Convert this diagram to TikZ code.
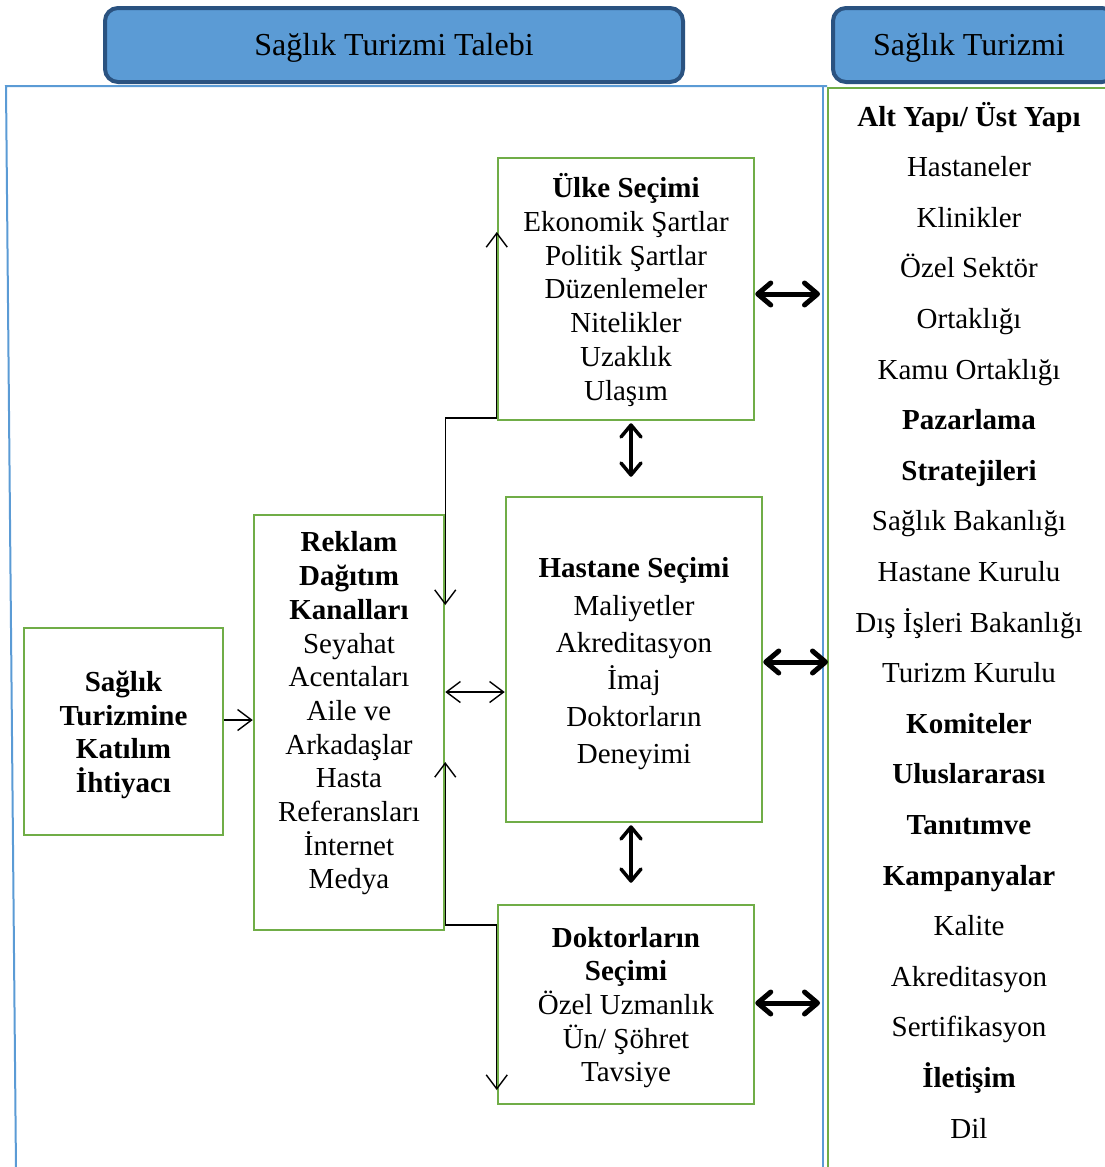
\documentclass[tikz,border=0pt]{standalone}
\usepackage{fontspec}
\setmainfont{Liberation Serif}
\usetikzlibrary{arrows.meta,calc}

\definecolor{boxgreen}{RGB}{112,173,71}
\definecolor{frameblue}{RGB}{91,155,213}
\definecolor{headfill}{RGB}{91,155,213}
\definecolor{headline}{RGB}{42,82,128}

\tikzset{
  txt/.style={font=\fontsize{29}{33.7}\selectfont, align=center, inner sep=0pt},
  gbox/.style={draw=boxgreen, line width=2.5pt, inner sep=0pt},
  header/.style={draw=headline, fill=headfill, line width=4pt, rounded corners=13pt, inner sep=0pt},
  headtxt/.style={font=\fontsize{32}{38}\selectfont, inner sep=0pt},
  frame/.style={draw=frameblue, line width=2pt},
  colframe/.style={draw=boxgreen, line width=2.5pt},
  thinhead/.tip={Straight Barb[length=14pt,width=21pt,line width=1.4pt]},
  thinlink/.style={line width=1.4pt},
  bighead/.tip={Straight Barb[round,length=13pt,width=22pt,line width=5pt]},
  biglink/.style={line width=5pt},
  midhead/.tip={Straight Barb[round,length=12pt,width=20pt,line width=3.5pt]},
  midlink/.style={line width=3.5pt},
}

\begin{document}
\begin{tikzpicture}[x=1pt,y=-1pt]
\useasboundingbox (0,0) rectangle (1105,1167);

% outer frames
\coordinate (frameR) at (823,86);
\coordinate (colL) at (828,88);
\draw[frame] (16,1170) -- (6,86) -- (827,86);
\draw[frame] (frameR) -- (823,1170);
\draw[colframe] (828,1170) -- (colL) -- (1110,88);

% headers
\node[header, minimum width=578pt, minimum height=74pt] (hdemand) at (394,45) {};
\node[headtxt] (hdemandtxt) at (394,48) {Sağlık Turizmi Talebi};
\node[header, minimum width=282pt, minimum height=74pt, anchor=west] (hsupply) at (831,45) {};
\node[headtxt] (hsupplytxt) at (969,48) {Sağlık Turizmi};

% boxes
\node[gbox, minimum width=199pt, minimum height=207pt] (need) at (123.5,731.5) {};
\node[txt] (needtxt) at (123.5,735)
  {\textbf{Sağlık}\\\textbf{Turizmine}\\\textbf{Katılım}\\\textbf{İhtiyacı}};
\node[gbox, minimum width=190pt, minimum height=415pt] (adv) at (349,722.5) {};
\node[txt] (advtxt) at (349,713.5)
  {\textbf{Reklam}\\\textbf{Dağıtım}\\\textbf{Kanalları}\\Seyahat\\Acentaları\\Aile ve\\Arkadaşlar\\Hasta\\Referansları\\İnternet\\Medya};
\node[gbox, minimum width=256pt, minimum height=262pt] (ulke) at (626,289) {};
\node[txt] (ulketxt) at (626,290)
  {\textbf{Ülke Seçimi}\\Ekonomik Şartlar\\Politik Şartlar\\Düzenlemeler\\Nitelikler\\Uzaklık\\Ulaşım};
\node[gbox, minimum width=256pt, minimum height=325pt] (hosp) at (634,659.5) {};
\node[txt, font=\fontsize{29}{37.2}\selectfont] (hosptxt) at (634,664)
  {\textbf{Hastane Seçimi}\\Maliyetler\\Akreditasyon\\İmaj\\Doktorların\\Deneyimi};
\node[gbox, minimum width=256pt, minimum height=199pt] (doc) at (626,1004.5) {};
\node[txt] (doctxt) at (626,1007.5)
  {\textbf{Doktorların}\\\textbf{Seçimi}\\Özel Uzmanlık\\Ün/ Şöhret\\Tavsiye};

% right column
\node[txt, font=\fontsize{29}{50.6}\selectfont] (supply) at (969,620)
  {\textbf{Alt Yapı/ Üst Yapı}\\Hastaneler\\Klinikler\\Özel Sektör\\Ortaklığı\\Kamu Ortaklığı\\
   \textbf{Pazarlama}\\\textbf{Stratejileri}\\Sağlık Bakanlığı\\Hastane Kurulu\\Dış İşleri Bakanlığı\\
   Turizm Kurulu\\\textbf{Komiteler}\\\textbf{Uluslararası}\\\textbf{Tanıtımve}\\\textbf{Kampanyalar}\\
   Kalite\\Akreditasyon\\Sertifikasyon\\\textbf{İletişim}\\Dil};

% thin connectors
\draw[thinlink, -thinhead] (need.east |- 0,720) -- (adv.west |- 0,720);
\draw[thinlink, thinhead-thinhead] (adv.east |- 0,692) -- (hosp.west |- 0,692);
\draw[thinlink, thinhead-thinhead] (ulke.west |- 0,232) -- (ulke.west |- 0,418)
  -- (adv.east |- 0,418) -- (adv.east |- 0,605);
\draw[thinlink, thinhead-thinhead] (adv.east |- 0,762) -- (adv.east |- 0,925)
  -- (doc.west |- 0,925) -- (doc.west |- 0,1090);

% thick links to the supply column
\draw[biglink, bighead-bighead] (ulke.east |- 0,294) -- ($(frameR |- 0,294)+(-3,0)$);
\draw[biglink, bighead-bighead] (hosp.east |- 0,662) -- (colL |- 0,662);
\draw[biglink, bighead-bighead] (doc.east |- 0,1003) -- ($(frameR |- 0,1003)+(-3,0)$);

% vertical links between the selection boxes
\draw[midlink, midhead-midhead] ($(ulke.south -| 631,0)+(0,2)$) -- ($(hosp.north -| 631,0)+(0,-19)$);
\draw[midlink, midhead-midhead] ($(hosp.south -| 631,0)+(0,2)$) -- ($(doc.north -| 631,0)+(0,-21)$);
\end{tikzpicture}
\end{document}
